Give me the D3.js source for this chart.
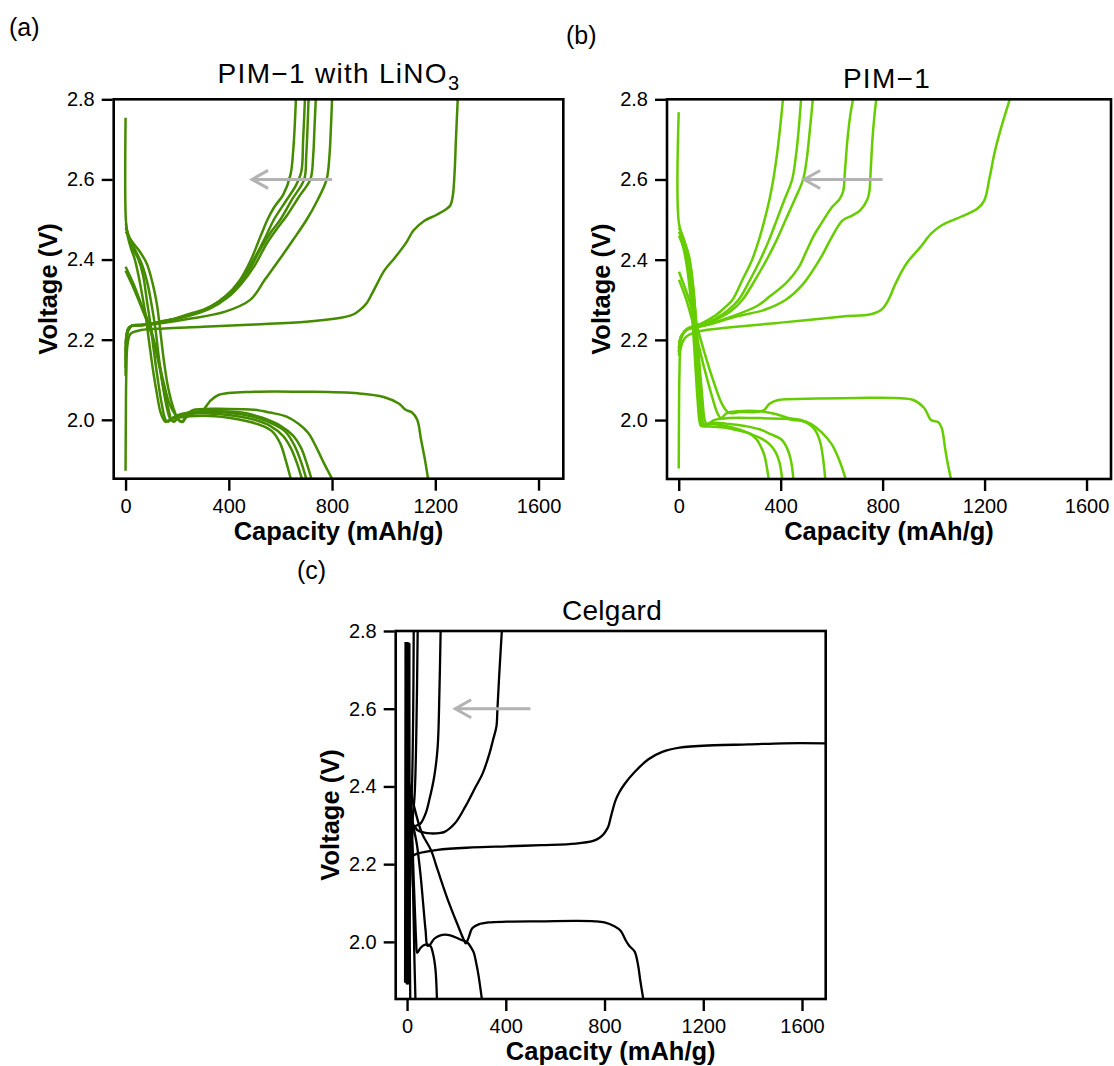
<!DOCTYPE html>
<html><head><meta charset="utf-8">
<script src="https://cdn.jsdelivr.net/npm/d3@7"></script>
<style>
body{margin:0;background:#fff}
svg{display:block}
text{font-family:"Liberation Sans",Arial,Helvetica,sans-serif;fill:#000}
</style>
</head><body>
<svg id="chart" width="1114" height="1066"></svg>
<script>
// ---------- shared axis data ----------
const xTicks = [0, 400, 800, 1200, 1600];
const yTicks = [2.0, 2.2, 2.4, 2.6, 2.8];
const xDomain = [-46, 1696];
const yDomain = [1.853, 2.8];

// ---------- panel (a): PIM-1 with LiNO3 ----------
const a_dis1 = [[0,2.382],[30,2.34],[60,2.29],[95,2.233],[120,2.17],[145,2.1],[170,2.04],[195,2.01],[212,1.996],[222,1.995],[235,2.006],[270,2.018],[300,2.024],[325,2.045],[360,2.062],[500,2.07],[700,2.07],[900,2.066],[1000,2.057],[1060,2.04],[1085,2.025],[1110,2.018],[1130,2.0],[1145,1.95],[1160,1.9],[1172,1.853]];
const a_dis2 = [[0,2.372],[30,2.33],[62,2.28],[95,2.225],[115,2.18],[135,2.12],[150,2.07],[165,2.03],[178,2.0],[188,1.995],[205,2.008],[250,2.015],[320,2.016],[420,2.01],[500,2.0],[560,1.985],[610,1.96],[640,1.93],[665,1.89],[683,1.853]];
const a_dis3 = [[0,2.754],[1,2.5],[8,2.46],[20,2.43],[36,2.4],[50,2.36],[62,2.32],[78,2.26],[90,2.2],[105,2.13],[120,2.07],[135,2.02],[148,2.0],[155,1.995],[170,2.0],[200,2.005],[300,2.01],[400,2.005],[480,1.995],[530,1.985],[570,1.97],[600,1.94],[620,1.9],[640,1.853]];
const a_dis4 = [[1,2.49],[12,2.455],[30,2.425],[50,2.4],[68,2.36],[82,2.3],[96,2.24],[110,2.17],[125,2.1],[140,2.04],[155,2.0],[165,1.995],[185,2.006],[220,2.015],[330,2.02],[430,2.015],[510,2.005],[570,1.99],[620,1.97],[655,1.935],[680,1.895],[700,1.853]];
const a_dis5 = [[1,2.48],[18,2.45],[40,2.42],[62,2.39],[85,2.34],[100,2.29],[115,2.23],[128,2.16],[143,2.09],[160,2.03],[175,2.0],[190,1.997],[210,2.01],[240,2.018],[340,2.022],[450,2.018],[530,2.005],[600,1.985],[650,1.96],[680,1.93],[700,1.895],[720,1.853]];
const a_dis6 = [[1,2.47],[25,2.445],[55,2.42],[82,2.39],[105,2.34],[121,2.29],[133,2.23],[148,2.15],[165,2.08],[185,2.03],[205,2.0],[220,1.996],[236,2.012],[260,2.024],[400,2.027],[498,2.025],[560,2.018],[624,2.008],[670,1.99],[708,1.967],[740,1.93],[770,1.89],[800,1.853]];
const a_ch1 = [[0,1.873],[1,2.0],[3,2.12],[8,2.19],[20,2.215],[60,2.224],[150,2.228],[300,2.232],[500,2.238],[700,2.245],[835,2.255],[870,2.26],[891,2.266],[915,2.278],[933,2.29],[955,2.315],[975,2.34],[1003,2.373],[1045,2.406],[1088,2.443],[1116,2.473],[1158,2.497],[1200,2.51],[1240,2.525],[1258,2.535],[1268,2.56],[1275,2.62],[1280,2.7],[1287,2.8]];
const a_ch2 = [[0,2.11],[3,2.19],[10,2.222],[25,2.235],[60,2.236],[120,2.242],[189,2.252],[250,2.265],[302,2.275],[350,2.29],[386,2.306],[442,2.348],[484,2.397],[526,2.463],[550,2.5],[575,2.53],[611,2.562],[639,2.612],[650,2.676],[660,2.8]];
const a_ch3 = [[0,2.13],[3,2.195],[10,2.223],[25,2.235],[60,2.236],[130,2.243],[210,2.255],[300,2.273],[360,2.295],[414,2.325],[460,2.36],[505,2.41],[545,2.46],[575,2.5],[620,2.545],[660,2.585],[681,2.62],[688,2.7],[695,2.8]];
const a_ch4 = [[0,2.15],[3,2.2],[10,2.225],[25,2.235],[60,2.236],[140,2.245],[220,2.257],[310,2.275],[375,2.3],[435,2.335],[480,2.375],[526,2.43],[565,2.47],[600,2.5],[645,2.55],[692,2.6],[700,2.66],[705,2.73],[709,2.8]];
const a_ch5 = [[0,2.17],[3,2.205],[10,2.227],[25,2.235],[70,2.237],[150,2.247],[235,2.258],[325,2.277],[395,2.305],[449,2.34],[500,2.385],[547,2.44],[590,2.48],[625,2.51],[675,2.56],[716,2.6],[727,2.66],[732,2.73],[737,2.8]];
const a_ch6 = [[0,2.19],[3,2.21],[10,2.228],[25,2.235],[100,2.238],[246,2.252],[386,2.27],[484,2.3],[540,2.35],[596,2.4],[650,2.45],[702,2.5],[745,2.55],[779,2.6],[790,2.66],[795,2.72],[800,2.8]];
const a_arrow = [[800,2.6],[490,2.6]];

// ---------- panel (b): PIM-1 ----------
const b_dis1 = [[1,2.37],[30,2.32],[60,2.26],[100,2.17],[140,2.09],[170,2.04],[197,2.018],[240,2.02],[300,2.02],[335,2.025],[355,2.04],[390,2.05],[503,2.053],[700,2.055],[851,2.055],[921,2.05],[963,2.03],[990,2.0],[1018,1.995],[1032,1.98],[1045,1.93],[1053,1.9],[1068,1.853]];
const b_dis2 = [[1,2.35],[30,2.3],[65,2.22],[100,2.13],[130,2.06],[150,2.02],[165,2.005],[190,2.018],[230,2.022],[320,2.022],[380,2.015],[430,2.005],[480,2.0],[520,1.99],[560,1.97],[600,1.94],[630,1.9],[655,1.853]];
const b_dis3 = [[0,2.768],[1,2.49],[20,2.45],[40,2.41],[55,2.34],[68,2.25],[80,2.15],[92,2.06],[102,2.0],[110,1.99],[140,2.0],[200,2.005],[300,2.005],[420,2.003],[450,2.0],[480,1.998],[510,1.99],[535,1.975],[555,1.945],[565,1.91],[575,1.853]];
const b_dis4 = [[1,2.48],[25,2.44],[45,2.39],[60,2.31],[72,2.2],[84,2.08],[92,2.01],[98,1.99],[130,1.993],[200,1.99],[260,1.985],[317,1.977],[360,1.965],[402,1.952],[425,1.93],[440,1.9],[450,1.853]];
const b_dis5 = [[1,2.47],[20,2.44],[40,2.38],[55,2.29],[68,2.17],[80,2.05],[88,1.995],[95,1.988],[130,1.99],[180,1.986],[240,1.976],[290,1.963],[330,1.952],[356,1.94],[380,1.92],[395,1.895],[406,1.853]];
const b_dis6 = [[1,2.46],[18,2.43],[35,2.37],[50,2.28],[62,2.17],[74,2.05],[82,1.995],[88,1.985],[120,1.984],[186,1.981],[240,1.973],[278,1.966],[305,1.952],[325,1.93],[337,1.91],[345,1.885],[353,1.853]];
const b_ch1 = [[0,1.879],[1,2.0],[3,2.12],[8,2.18],[25,2.205],[60,2.218],[150,2.228],[225,2.233],[400,2.243],[643,2.258],[754,2.264],[795,2.275],[823,2.3],[851,2.341],[893,2.39],[949,2.432],[990,2.465],[1032,2.486],[1088,2.502],[1171,2.527],[1199,2.548],[1220,2.606],[1241,2.672],[1269,2.738],[1299,2.8]];
const b_ch2 = [[1,2.16],[8,2.2],[30,2.225],[86,2.24],[142,2.26],[180,2.28],[211,2.3],[250,2.35],[288,2.4],[315,2.45],[337,2.5],[356,2.55],[371,2.6],[385,2.66],[398,2.73],[409,2.8]];
const b_ch3 = [[1,2.17],[8,2.205],[30,2.226],[80,2.238],[140,2.252],[190,2.272],[235,2.3],[280,2.35],[320,2.4],[355,2.45],[385,2.5],[415,2.55],[445,2.6],[460,2.66],[470,2.72],[480,2.8]];
const b_ch4 = [[1,2.17],[8,2.205],[30,2.226],[90,2.238],[150,2.252],[205,2.272],[250,2.3],[300,2.35],[345,2.4],[385,2.45],[420,2.5],[455,2.55],[488,2.6],[502,2.65],[514,2.72],[526,2.8]];
const b_ch5 = [[1,2.18],[10,2.21],[35,2.226],[100,2.236],[198,2.256],[309,2.285],[360,2.31],[420,2.341],[470,2.38],[503,2.424],[530,2.46],[559,2.49],[601,2.531],[630,2.55],[645,2.57],[652,2.62],[662,2.7],[673,2.76],[684,2.8]];
const b_ch6 = [[1,2.18],[10,2.21],[35,2.227],[110,2.237],[225,2.258],[337,2.275],[420,2.3],[490,2.341],[559,2.407],[601,2.457],[643,2.498],[680,2.51],[712,2.523],[740,2.55],[748,2.57],[753,2.62],[760,2.7],[768,2.76],[775,2.8]];
const b_arrow = [[800,2.6],[492,2.6]];

// ---------- panel (c): Celgard ----------
const c_dis1 = [[5,2.42],[28,2.35],[60,2.28],[97,2.236],[124,2.185],[166,2.107],[208,2.039],[228,2.008],[238,1.996],[250,2.012],[264,2.035],[290,2.045],[330,2.05],[404,2.052],[550,2.053],[684,2.054],[760,2.053],[800,2.05],[840,2.04],[866,2.028],[885,2.005],[900,1.99],[922,1.975],[936,1.94],[945,1.9],[957,1.853]];
const c_dis2 = [[15,2.35],[25,2.3],[40,2.25],[55,2.17],[65,2.1],[75,2.03],[83,1.99],[92,1.992],[110,2.008],[135,2.017],[175,2.017],[216,2.006],[243,1.999],[260,1.985],[270,1.973],[282,1.94],[290,1.912],[303,1.853]];
const c_dis3 = [[10,2.38],[20,2.28],[27,2.16],[33,2.06],[37,2.0],[41,1.972],[55,1.985],[74,1.993],[94,1.99],[105,1.97],[115,1.93],[121,1.853]];
const c_dis4 = [[15,2.4],[22,2.2],[27,2.05],[30,1.95],[34,1.853]];
const c_dis5 = [[8,2.77],[10,2.3],[11,2.0],[13,1.853]];
const c_ch1 = [[2,1.9],[4,2.1],[6,2.21],[20,2.22],[41,2.227],[124,2.237],[264,2.243],[404,2.246],[544,2.249],[684,2.253],[754,2.26],[780,2.268],[796,2.277],[810,2.29],[817,2.3],[825,2.32],[831,2.335],[845,2.365],[860,2.385],[880,2.405],[922,2.437],[978,2.47],[1034,2.489],[1104,2.5],[1243,2.506],[1383,2.508],[1523,2.511],[1695,2.511]];
const c_ch2 = [[5,1.9],[10,2.1],[18,2.25],[27,2.3],[41,2.288],[70,2.281],[97,2.279],[130,2.28],[152,2.283],[194,2.305],[236,2.348],[278,2.399],[306,2.433],[334,2.485],[348,2.519],[362,2.554],[366,2.597],[373,2.682],[384,2.8]];
const c_ch3 = [[5,1.9],[12,2.15],[20,2.27],[27,2.296],[41,2.3],[55,2.305],[75,2.33],[90,2.365],[110,2.425],[124,2.502],[131,2.64],[136,2.8]];
const c_ch4 = [[4,1.9],[10,2.2],[20,2.296],[31,2.382],[38,2.554],[43,2.8]];
const c_ch5 = [[3,1.9],[10,2.25],[20,2.4],[25,2.6],[27,2.8]];
const c_bundle1 = [[-8,1.895],[-7,2.3],[-6,2.772]];
const c_bundle2 = [[-4,2.772],[-3,2.3],[-2,1.893]];
const c_bundle3 = [[0,1.89],[1,2.4],[2,2.772]];
const c_bundle4 = [[4,2.77],[5,2.2],[6,1.89]];
const c_bundle5 = [[7,1.892],[8,2.4],[9,2.768]];
const c_arrow = [[500,2.6],[195,2.6]];

// ---------- drawing ----------
const svg = d3.select("#chart");
const FONT = '"Liberation Sans",Arial,Helvetica,sans-serif';

function drawPanel(cfg){
  const x = d3.scaleLinear().domain(xDomain).range([cfg.left, cfg.right]);
  const y = d3.scaleLinear().domain(yDomain).range([cfg.bottom, cfg.top]);
  const g = svg.append("g");
  const clipId = "clip" + cfg.id;
  svg.append("clipPath").attr("id", clipId).append("rect")
    .attr("x", cfg.left).attr("y", cfg.top)
    .attr("width", cfg.right - cfg.left).attr("height", cfg.bottom - cfg.top);

  const line = d3.line().x(d => x(d[0])).y(d => y(d[1])).curve(d3.curveCatmullRom.alpha(0.5));
  const lg = g.append("g").attr("clip-path", `url(#${clipId})`);
  cfg.series.forEach(s => {
    lg.append("path").attr("d", line(s)).attr("fill", "none")
      .attr("stroke", cfg.color).attr("stroke-width", cfg.lw)
      .attr("stroke-linejoin", "round").attr("stroke-linecap", "butt");
  });

  // arrow
  const ax0 = x(cfg.arrow[0][0]), ax1 = x(cfg.arrow[1][0]), ay = y(cfg.arrow[0][1]);
  g.append("path")
    .attr("d", `M${ax0},${ay}L${ax1},${ay}M${ax1+16},${ay-9}L${ax1},${ay}L${ax1+16},${ay+9}`)
    .attr("fill", "none").attr("stroke", "#b3b3b3").attr("stroke-width", 3);

  // frame
  g.append("rect").attr("x", cfg.left).attr("y", cfg.top)
    .attr("width", cfg.right - cfg.left).attr("height", cfg.bottom - cfg.top)
    .attr("fill", "none").attr("stroke", "#000").attr("stroke-width", 2.6);

  // axes
  const xa = g.append("g").attr("transform", `translate(0,${cfg.bottom + 1})`)
    .call(d3.axisBottom(x).tickValues(xTicks).tickSize(11).tickPadding(8).tickSizeOuter(0).tickFormat(d3.format("d")));
  const ya = g.append("g").attr("transform", `translate(${cfg.left - 1},0)`)
    .call(d3.axisLeft(y).tickValues(yTicks).tickSize(11).tickPadding(7).tickSizeOuter(0).tickFormat(d3.format(".1f")));
  [xa, ya].forEach(a => {
    a.select(".domain").remove();
    a.selectAll(".tick line").attr("stroke", "#000").attr("stroke-width", 2.4);
    a.selectAll(".tick text").attr("font-family", FONT).attr("font-size", 20).attr("fill", "#000");
  });

  // axis titles
  const cx = (cfg.left + cfg.right) / 2, cy = (cfg.top + cfg.bottom) / 2;
  g.append("text").attr("x", cx).attr("y", cfg.bottom + 61).attr("text-anchor", "middle")
    .attr("font-size", 25.5).attr("font-weight", "bold").text("Capacity (mAh/g)");
  g.append("text").attr("transform", `translate(${cfg.left - 57},${cy}) rotate(-90)`)
    .attr("text-anchor", "middle").attr("font-size", 25.5).attr("font-weight", "bold").text("Voltage (V)");

  // title
  const t = g.append("text").attr("x", cfg.titleX).attr("y", cfg.titleY).attr("text-anchor", "middle")
    .attr("font-size", 28).attr("letter-spacing", cfg.ls);
  t.append("tspan").text(cfg.title);
  if (cfg.sub) t.append("tspan").attr("dy", 7).attr("font-size", 20).text(cfg.sub);

  // panel label
  g.append("text").attr("x", cfg.labelX).attr("y", cfg.labelY).attr("font-size", 25).text(cfg.label);
}

drawPanel({id:"a", left:113.7, top:99.3, right:563.3, bottom:478.7, color:"#458b00", lw:2.5,
  series:[a_ch1,a_ch2,a_ch3,a_ch4,a_ch5,a_ch6,a_dis1,a_dis2,a_dis3,a_dis4,a_dis5,a_dis6],
  arrow:a_arrow, title:"PIM\u22121 with LiNO", sub:"3", titleX:339, titleY:83, ls:1.3,
  label:"(a)", labelX:9, labelY:36});
drawPanel({id:"b", left:667, top:99.3, right:1111, bottom:479, color:"#66cd00", lw:2.5,
  series:[b_ch1,b_ch2,b_ch3,b_ch4,b_ch5,b_ch6,b_dis1,b_dis2,b_dis3,b_dis4,b_dis5,b_dis6],
  arrow:b_arrow, title:"PIM\u22121", sub:null, titleX:887, titleY:88, ls:1.3,
  label:"(b)", labelX:566, labelY:44});
drawPanel({id:"c", left:395.7, top:631, right:825.7, bottom:999, color:"#000000", lw:2.3,
  series:[c_ch1,c_ch2,c_ch3,c_ch4,c_ch5,c_dis1,c_dis2,c_dis3,c_dis4,c_dis5,c_bundle1,c_bundle2,c_bundle3,c_bundle4,c_bundle5],
  arrow:c_arrow, title:"Celgard", sub:null, titleX:612, titleY:620, ls:0.3,
  label:"(c)", labelX:297, labelY:579});
</script>
</body></html>
